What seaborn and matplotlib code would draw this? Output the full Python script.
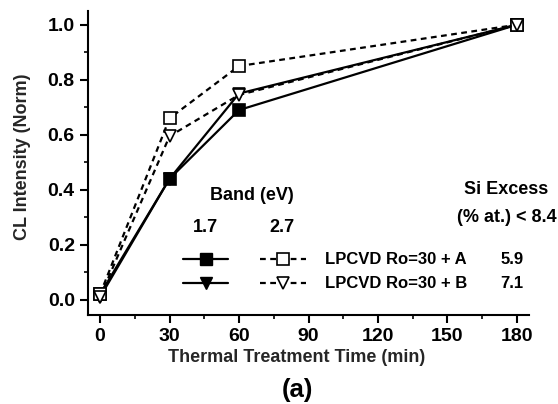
import matplotlib
matplotlib.use("Agg")
import matplotlib.pyplot as plt
from matplotlib.lines import Line2D
from matplotlib.ticker import MultipleLocator
import seaborn as sns
import pandas as pd

# ---- data ----
times = [0, 30, 60, 180]
a_17 = [0.02, 0.44, 0.69, 1.0]   # filled square, solid
b_17 = [0.01, 0.44, 0.75, 1.0]   # filled down triangle, solid
a_27 = [0.02, 0.66, 0.85, 1.0]   # open square, dashed
b_27 = [0.01, 0.595, 0.745, 1.0] # open down triangle, dashed
x_ticks = [0, 30, 60, 90, 120, 150, 180]
y_ticks = [0.0, 0.2, 0.4, 0.6, 0.8, 1.0]
sample_labels = ["LPCVD Ro=30 + A", "LPCVD Ro=30 + B"]
si_excess = ["5.9", "7.1"]

sns.set_theme(style="ticks")
plt.rcParams["font.family"] = ["Liberation Sans", "DejaVu Sans"]
plt.rcParams["font.weight"] = "bold"

W, H = 558, 404
fig = plt.figure(figsize=(W / 100, H / 100), dpi=100)
ax = fig.add_axes([88 / W, 1 - 315 / H, (529 - 88) / W, (315 - 11) / H])

LW = 1.6
DASH = (2.6, 2.0)
series = [
    (a_17, "s", "black", "-"),
    (b_17, "v", "black", "-"),
    (a_27, "s", "white", "--"),
    (b_27, "v", "white", "--"),
]
for vals, mk, fc, ls in series:
    df = pd.DataFrame({"t": times, "v": vals})
    kw = dict(color="black", marker=mk, markersize=8, markerfacecolor=fc,
              markeredgecolor="black", markeredgewidth=1.2, linewidth=LW)
    line = sns.lineplot(data=df, x="t", y="v", ax=ax, **kw).lines[-1]
    if ls == "--":
        line.set_dashes(DASH)

ax.set_xlim(-5.2, 185.2)
ax.set_ylim(-0.055, 1.05)
ax.set_xticks(x_ticks)
ax.set_yticks(y_ticks)
ax.set_yticklabels([f"{v:.1f}" for v in y_ticks])
ax.xaxis.set_minor_locator(MultipleLocator(15))
ax.yaxis.set_minor_locator(MultipleLocator(0.1))
ax.tick_params(which="major", length=6, width=1.5, labelsize=14, direction="out", colors="black")
ax.tick_params(which="minor", length=3, width=1.2, direction="out", colors="black")
for lab in ax.get_xticklabels() + ax.get_yticklabels():
    lab.set_fontweight("bold")
sns.despine(ax=ax)
for s in ["left", "bottom"]:
    ax.spines[s].set_linewidth(1.5)
    ax.spines[s].set_color("black")

ax.set_xlabel("Thermal Treatment Time (min)", fontsize=13, fontweight="bold")
ax.set_ylabel("CL Intensity (Norm)", fontsize=13, fontweight="bold")
ax.xaxis.label.set_va("center")
ax.yaxis.label.set_va("center")
ax.xaxis.set_label_coords((297 - 88) / 441, (315 - 358) / 304)
ax.yaxis.set_label_coords((23 - 88) / 441, (315 - 157) / 304)

def fx(px):
    return px / W

def fy(py):
    return 1 - py / H

hkw = dict(fontsize=13, fontweight="bold", va="center", color="black")
tkw = dict(fontsize=12, fontweight="bold", va="center", color="black")
fig.text(fx(252), fy(195), "Band (eV)", ha="center", **hkw)
fig.text(fx(205), fy(228), "1.7", ha="center", **hkw)
fig.text(fx(282), fy(228), "2.7", ha="center", **hkw)
fig.text(fx(506), fy(189), "Si Excess", ha="center", **hkw)
fig.text(fx(507), fy(217), "(% at.) < 8.4", ha="center", **hkw)

rows_y = [259, 283]
for i, (ry, mk) in enumerate(zip(rows_y, ["s", "v"])):
    fig.add_artist(Line2D([fx(183), fx(228)], [fy(ry), fy(ry)], color="black", lw=LW,
                          transform=fig.transFigure))
    fig.add_artist(Line2D([fx(206)], [fy(ry)], color="black", marker=mk, markersize=8,
                          markerfacecolor="black", markeredgecolor="black", lw=0,
                          transform=fig.transFigure))
    dl = Line2D([fx(260), fx(306)], [fy(ry), fy(ry)], color="black", lw=LW,
                transform=fig.transFigure)
    dl.set_dashes(DASH)
    fig.add_artist(dl)
    fig.add_artist(Line2D([fx(283)], [fy(ry)], color="black", marker=mk, markersize=8,
                          markerfacecolor="white", markeredgecolor="black",
                          markeredgewidth=1.2, lw=0, transform=fig.transFigure))
    fig.text(fx(325), fy(ry), sample_labels[i], ha="left", **tkw)
    fig.text(fx(512), fy(ry), si_excess[i], ha="center", **tkw)

fig.text(fx(297), fy(390), "(a)", ha="center", va="center", fontsize=18.5,
         fontweight="bold", color="black")

fig.savefig("out.png", dpi=100)
